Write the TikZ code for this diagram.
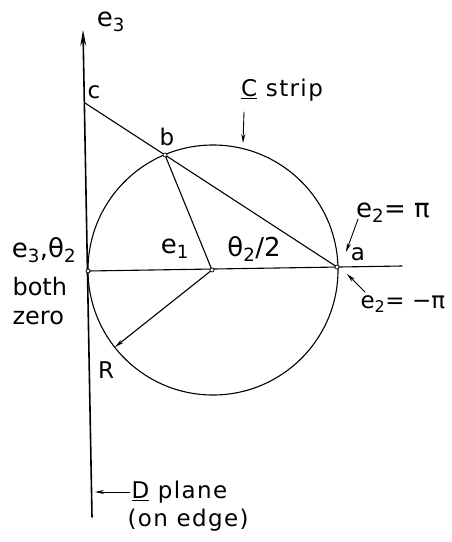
\documentclass[tikz,border=0pt]{standalone}
\usepackage{fontspec}
\setmainfont{DejaVu Sans}
\usetikzlibrary{arrows.meta}
\begin{document}
\begin{tikzpicture}[x=1pt,y=-1pt, line width=1.1pt, line cap=round,
  lbl/.style={inner sep=0pt, font=\fontsize{23}{25}\selectfont\addfontfeature{LetterSpace=6}},
  big/.style={inner sep=0pt, font=\fontsize{26}{28}\selectfont},
  jn/.style={circle, draw, inner sep=0pt, minimum size=4pt, line width=0.7pt, fill=white},
  arr/.style={-{Stealth[length=9pt,width=4pt]}}]
\useasboundingbox (0,0) rectangle (452,542);
% key points
\coordinate (top) at (83,30);
\coordinate (bot) at (92,517);
\coordinate (O) at (212,270);
\coordinate (L) at (88,271);
\coordinate (E) at (402,266);
\coordinate (a) at (337,267);
\coordinate (b) at (165,155);
\coordinate (c) at (85,103);
\coordinate (R) at (115,347);
% axis (D plane on edge)
\draw[line width=1.6pt, -{Stealth[open,length=16pt,width=6pt,line width=1.2pt]}] (bot) -- (top);
% circle
\draw (213,270) circle[radius=125];
% lines
\draw (L) -- (E);
\draw (c) -- (b) -- (a);
\draw (O) -- (b);
\draw[arr] (O) -- (R);
% junction marks
\node[jn] at (b) {};
\node[jn] at (O) {};
\node[jn] at (L) {};
\node[jn] at (a) {};
% labels
\node[big] (le3) at (111,22) {e\textsubscript{3}};
\node[lbl] (lc) at (94,92) {c};
\node[lbl] (lb) at (167,137) {b};
\node[lbl] (lC) at (282,90) {\underline{C} strip};
\coordinate (Cs) at (244,112);
\coordinate (Ce) at (243,143);
\draw[arr, line width=0.9pt] (Cs) -- (Ce);
\node[big] (le1) at (175,249) {e\textsubscript{1}};
\node[big] (lt2) at (254,249) {θ\textsubscript{2}/2};
\node[big] (lpi) at (393,213) {e\textsubscript{2}= π};
\coordinate (p1) at (358,219);
\coordinate (p2) at (346,252);
\draw[arr, line width=0.9pt] (p1) -- (p2);
\node[lbl] (la) at (358,254) {a};
\node[big, font=\fontsize{23}{25}\selectfont, anchor=west] (lmpi) at (360,304) {e\textsubscript{2}= −π};
\coordinate (m1) at (365,292);
\coordinate (m2) at (347,274);
\draw[arr, line width=0.9pt] (m1) -- (m2);
\node[big] (lz1) at (44,250) {e\textsubscript{3},θ\textsubscript{2}};
\node[big, anchor=north west, align=left, font=\fontsize{24}{29}\selectfont] (lz2) at (12,277) {both\\zero};
\node[lbl] (lR) at (106,370) {R};
\node[lbl, anchor=west] (lD) at (131,492) {\underline{D} plane};
\node[lbl, anchor=west] (lD2) at (127,520) {(on edge)};
\coordinate (d1) at (130,492);
\coordinate (d2) at (95,492);
\draw[arr, line width=0.9pt] (d1) -- (d2);
\end{tikzpicture}
\end{document}
